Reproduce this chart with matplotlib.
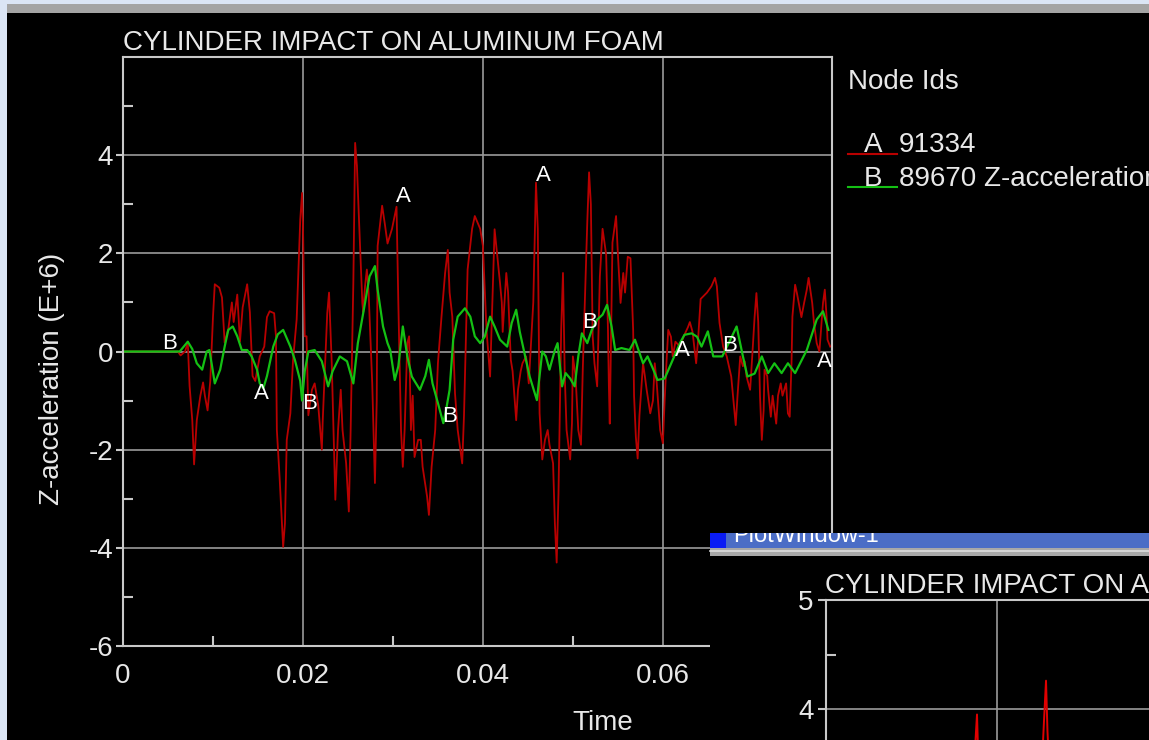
import numpy as np
import matplotlib.pyplot as plt
from matplotlib.patches import Rectangle
from matplotlib.lines import Line2D

plt.rcParams['font.family'] = ['Liberation Sans', 'DejaVu Sans']

W, H = 1149, 740

# node A (91334): time in ms, Z-acceleration in E+6
time_a = [0.0, 6.1, 6.4, 6.9, 7.2, 7.4, 7.7, 7.9, 8.2, 8.6, 8.9, 9.1, 9.4, 9.7, 10.0, 10.2,
          10.7, 11.0, 11.3, 11.7, 12.1, 12.3, 12.7, 13.0, 13.3, 13.8, 14.1, 14.4, 14.7, 15.2,
          15.7, 16.0, 16.3, 16.8, 17.0, 17.1, 17.4, 17.8, 18.0, 18.2, 18.6, 18.9, 19.3, 19.7,
          19.9, 20.0, 20.2, 20.4, 20.6, 21.0, 21.3, 21.7, 22.1, 22.2, 22.7, 22.9, 23.2, 23.6,
          23.9, 24.2, 24.4, 24.8, 25.1, 25.3, 25.6, 25.8, 26.0, 26.2, 26.6, 26.7, 26.9, 27.1,
          27.3, 27.7, 28.0, 28.2, 28.3, 28.8, 29.1, 29.4, 29.9, 30.4, 30.6, 30.9, 31.1, 31.3,
          31.6, 31.8, 32.0, 32.2, 32.4, 32.8, 33.1, 33.3, 33.8, 34.0, 34.3, 34.7, 35.0, 35.4,
          35.8, 36.1, 36.3, 36.6, 36.9, 37.2, 37.7, 37.9, 38.1, 38.3, 38.8, 39.1, 39.7, 40.0,
          40.4, 40.8, 41.1, 41.3, 41.6, 41.9, 42.1, 42.2, 42.6, 42.8, 43.1, 43.3, 43.7, 43.9,
          44.2, 44.4, 44.8, 45.1, 45.6, 45.9, 46.1, 46.3, 46.6, 46.9, 47.2, 47.4, 47.8, 48.0,
          48.2, 48.4, 48.7, 48.9, 49.1, 49.3, 49.7, 49.9, 50.0, 50.3, 50.6, 50.9, 51.1, 51.4,
          51.6, 51.8, 52.0, 52.2, 52.4, 52.7, 53.0, 53.3, 53.7, 53.9, 54.0, 54.1, 54.4, 54.8,
          55.0, 55.3, 55.6, 55.8, 56.1, 56.4, 56.7, 56.8, 57.0, 57.2, 57.4, 57.8, 58.0, 58.2,
          58.6, 58.9, 59.1, 59.3, 59.7, 60.0, 60.2, 60.4, 60.6, 60.9, 61.1, 61.4, 61.9, 62.3,
          62.8, 63.0, 63.3, 63.7, 63.9, 64.2, 64.9, 65.4, 65.8, 66.0, 66.3, 66.7, 67.1, 67.6,
          67.8, 68.1, 68.3, 68.6, 68.9, 69.1, 69.3, 69.7, 69.9, 70.2, 70.4, 70.6, 70.8, 71.0,
          71.2, 71.3, 71.6, 71.7, 72.0, 72.2, 72.6, 72.8, 73.1, 73.3, 73.7, 73.9, 74.1, 74.3,
          74.4, 74.7, 74.9, 75.1, 75.4, 75.7, 76.0, 76.2, 76.6, 76.8, 77.1, 77.4, 77.8, 78.0,
          78.2, 78.3, 78.6]
acc_a = [0.0, 0.0, -0.08, 0.0, 0.18, -0.7, -1.4, -2.3, -1.4, -0.9, -0.63, -0.9, -1.2, -0.6, 0.7, 1.37,
         1.3, 1.1, 0.18, 0.45, 1.0, 0.6, 1.16, 0.2, 0.9, 1.37, 0.8, -0.5, -0.6, -0.1,
         0.1, 0.7, 0.82, 0.78, 0.31, -1.6, -2.55, -3.98, -3.5, -1.8, -1.26, -0.17, 0.65, 2.69,
         3.23, 2.6, 0.31, 0.31, -1.3, -0.78, -0.65, -1.1, -2.0, -1.4, 0.78, 1.2, -0.24, -3.02,
         -1.6, -0.78, -1.6, -2.28, -3.26, -1.6, 1.4, 4.25, 3.78, 2.82, 0.99, 0.8, 1.33, 1.67,
         1.19, -0.65, -2.68, -1.0, 2.15, 2.97, 2.6, 2.2, 2.5, 2.95, 1.0, -1.6, -2.35, -1.6,
         0.17, 0.31, -1.6, -0.9, -2.15, -1.8, -1.8, -2.35, -2.96, -3.33, -2.35, -1.6, -0.24, 0.71,
         1.6, 2.07, 1.2, 0.71, -0.85, -1.6, -2.28, -1.3, 0.17, 1.67, 2.5, 2.76, 2.5, 2.15,
         0.44, -0.51, 1.26, 2.49, 1.95, 1.4, 1.0, 0.4, 1.6, 1.2, -0.17, -0.4, -1.4, -0.78,
         -0.4, -0.24, -0.1, -0.65, 1.0, 3.44, 2.5, -1.26, -2.2, -1.8, -1.6, -1.9, -2.28, -3.5,
         -4.3, -2.9, 0.44, 1.6, -0.5, -1.6, -2.2, -1.46, -0.1, -0.5, -1.6, -1.9, -0.37, 1.46,
         2.63, 3.65, 3.0, 0.31, -0.24, -0.71, 1.53, 2.5, 1.97, 0.44, -0.69, -1.47, 2.22, 2.76,
         2.0, 0.99, 1.6, 1.2, 1.93, 1.9, 0.44, -0.9, -1.74, -2.18, -1.3, -0.24, -0.5, -0.78,
         -1.26, -1.0, -0.24, -0.6, -1.6, -1.87, -1.0, -0.24, 0.44, 0.3, -0.1, 0.2, 0.1, 0.3,
         0.5, 0.6, 0.4, -0.24, 0.2, 1.07, 1.2, 1.33, 1.5, 1.33, 0.58, 0.1, -0.1, -0.51,
         -0.9, -1.5, -0.9, -0.1, -0.3, -0.2, -0.51, -0.78, -0.2, 0.71, 1.19, 0.6, -0.92, -1.8,
         -1.2, -0.37, -0.5, -0.78, -1.33, -0.9, -1.47, -0.9, -0.65, -0.9, -0.65, -1.26, -1.33, -0.24,
         0.71, 1.36, 1.19, 0.99, 0.7, 0.99, 1.26, 1.5, 0.99, 0.58, 0.17, 0.0, 0.99, 1.26,
         0.7, 0.24, 0.1]

# node B (89670)
time_b = [0.0, 6.3, 7.2, 7.7, 8.2, 8.8, 9.3, 9.6, 9.9, 10.2, 10.8, 11.3, 11.7, 12.2, 12.7, 13.2,
          13.8, 14.3, 14.9, 15.2, 15.6, 16.0, 16.7, 17.2, 17.8, 18.6, 19.1, 19.7, 19.9, 20.2,
          20.6, 21.3, 22.1, 22.8, 23.3, 24.1, 24.9, 25.6, 26.1, 26.9, 27.4, 28.0, 28.3, 28.9,
          29.4, 29.7, 30.2, 30.6, 31.1, 31.6, 32.1, 33.0, 33.6, 34.0, 34.4, 35.0, 35.6, 35.9,
          36.3, 36.7, 37.2, 38.0, 38.6, 39.1, 39.7, 40.2, 40.8, 41.3, 41.9, 42.7, 43.2, 43.7,
          44.1, 44.7, 45.2, 46.0, 46.6, 47.0, 47.4, 48.0, 48.3, 48.8, 49.2, 49.7, 50.2, 50.6,
          51.0, 51.6, 52.1, 52.7, 53.3, 53.8, 54.3, 54.7, 55.4, 56.3, 56.9, 57.8, 58.3, 58.9,
          59.4, 60.2, 61.1, 61.9, 62.4, 63.2, 63.8, 64.3, 65.0, 65.6, 66.6, 67.4, 68.2, 68.9,
          69.4, 70.2, 71.0, 71.7, 72.4, 73.2, 73.9, 74.7, 76.0, 77.1, 77.8, 78.4]
acc_b = [0.0, 0.0, 0.2, 0.05, -0.24, -0.37, 0.0, 0.03, -0.3, -0.65, -0.37, 0.1, 0.44, 0.51, 0.31, 0.03,
         0.03, -0.1, -0.37, -0.65, -0.75, -0.5, 0.1, 0.35, 0.44, 0.1, -0.17, -0.6, -1.0, -0.4,
         0.0, 0.03, -0.2, -0.71, -0.4, -0.1, -0.2, -0.65, 0.17, 0.99, 1.53, 1.74, 1.26, 0.51,
         0.17, 0.03, -0.58, -0.3, 0.51, -0.1, -0.51, -0.78, -0.5, -0.17, -0.65, -1.05, -1.46, -1.2,
         -0.78, 0.24, 0.71, 0.88, 0.71, 0.31, 0.17, 0.3, 0.71, 0.51, 0.24, 0.1, 0.58, 0.85,
         0.4, -0.1, -0.51, -0.99, 0.0, -0.1, -0.37, 0.03, 0.17, -0.71, -0.44, -0.55, -0.71, -0.1,
         0.37, 0.17, 0.44, 0.65, 0.75, 0.95, 0.51, 0.03, 0.07, 0.03, 0.24, -0.24, -0.1, -0.35,
         -0.58, -0.55, -0.17, 0.17, 0.34, 0.37, 0.3, 0.1, 0.41, -0.1, -0.1, 0.2, 0.51, -0.1,
         -0.51, -0.45, -0.1, -0.44, -0.24, -0.44, -0.24, -0.44, 0.03, 0.65, 0.82, 0.44]

# curve letters drawn along the lines
mark_a_time = [15.4, 31.2, 46.7, 62.2, 77.9]
mark_a_val = [-0.86, 3.16, 3.59, 0.02, -0.2]
mark_b_time = [5.2, 20.7, 36.3, 51.8, 67.4]
mark_b_val = [0.16, -1.06, -1.33, 0.59, 0.12]

x_ticks = [0, 0.02, 0.04, 0.06]
x_labels = ['0', '0.02', '0.04', '0.06']
y_ticks = [-6, -4, -2, 0, 2, 4]
y_labels = ['-6', '-4', '-2', '0', '2', '4']

# second plot window, mostly hidden
inset_time = [17.0, 17.4, 17.66, 17.9, 25.2, 25.5, 25.73, 25.9, 26.2]
inset_acc = [3.2, 3.6, 3.95, 3.3, 3.4, 3.9, 4.26, 3.8, 3.3]

RED = '#b80000'
GREEN = '#14c014'
TXT = '#e8e8e8'
AXC = '#c8c8c8'


def fx(px):
    return px / W


def fy(py):
    return 1 - py / H


fig = plt.figure(figsize=(W / 100, H / 100), dpi=100, facecolor='#dbe5f5')

# main window frame
fig.add_artist(Rectangle((fx(7), 0), 1 - fx(7), fy(13), transform=fig.transFigure,
                         facecolor='black', edgecolor='none', zorder=-2))
fig.add_artist(Rectangle((fx(7), fy(13)), 1 - fx(7), 9 / H, transform=fig.transFigure,
                         facecolor='#a4a4a4', edgecolor='none', zorder=-1))

ax = fig.add_axes([fx(123), fy(646), (832 - 123) / W, (646 - 57) / H])
ax.set_facecolor('black')
ax.plot(np.array(time_a) / 1000, acc_a, color=RED, lw=1.3)
ax.plot(np.array(time_b) / 1000, acc_b, color=GREEN, lw=1.6)
for t, v in zip(mark_a_time, mark_a_val):
    ax.text(t / 1000, v, 'A', color='white', fontsize=16, ha='center', va='center', zorder=5)
for t, v in zip(mark_b_time, mark_b_val):
    ax.text(t / 1000, v, 'B', color='white', fontsize=16, ha='center', va='center', zorder=5)

ax.set_xlim(0, 0.0788)
ax.set_ylim(-6, 6)
ax.set_xticks(x_ticks)
ax.set_xticklabels(x_labels)
ax.set_yticks(y_ticks)
ax.set_yticklabels(y_labels)
ax.set_xticks([0.01, 0.03, 0.05, 0.07], minor=True)
ax.set_yticks([-5, -3, -1, 1, 3, 5], minor=True)
ax.tick_params(which='both', colors=AXC, labelcolor=TXT, labelsize=20)
ax.tick_params(axis='x', which='major', length=0, pad=12)
ax.tick_params(axis='y', which='major', direction='out', length=5, width=1.5, pad=2)
ax.tick_params(which='minor', direction='in', length=7, width=1.5)
ax.grid(True, which='major', color='#9a9a9a', lw=1.2)
for s in ax.spines.values():
    s.set_color(AXC)
    s.set_linewidth(1.5)

fig.text(fx(123), fy(50), 'CYLINDER IMPACT ON ALUMINUM FOAM', fontsize=20, color=TXT, va='baseline')
fig.text(fx(52), fy(379), 'Z-acceleration (E+6)', fontsize=20, color=TXT, rotation=90,
         ha='center', va='center')
fig.text(fx(603), fy(723), 'Time', fontsize=20, color=TXT, ha='center', va='center')

# legend
fig.text(fx(848), fy(89), 'Node Ids', fontsize=20, color=TXT, va='baseline')
fig.text(fx(864), fy(152), 'A', fontsize=20, color=TXT, va='baseline')
fig.text(fx(899), fy(152), '91334', fontsize=20, color=TXT, va='baseline')
fig.add_artist(Line2D([fx(848), fx(897)], [fy(153.5)] * 2, transform=fig.transFigure, color=RED, lw=1.5))
fig.text(fx(864), fy(186), 'B', fontsize=20, color=TXT, va='baseline')
fig.text(fx(899), fy(186), '89670 Z-acceleration', fontsize=20, color=TXT, va='baseline')
fig.add_artist(Line2D([fx(848), fx(897)], [fy(187)] * 2, transform=fig.transFigure, color=GREEN, lw=1.5))

# second window on top
fig.add_artist(Rectangle((fx(710), 0), 1 - fx(710), fy(556), transform=fig.transFigure,
                         facecolor='black', edgecolor='none', zorder=20))
fig.add_artist(Rectangle((fx(710), fy(556)), 1 - fx(710), 8 / H, transform=fig.transFigure,
                         facecolor='#a8a8a8', edgecolor='none', zorder=20))
fig.add_artist(Line2D([fx(710), 1], [fy(551)] * 2, transform=fig.transFigure, color='#dedede',
                      lw=1.2, zorder=21))

# title bar of the second window, its caption cut at the top edge
bar = fig.add_axes([fx(710), fy(548), 1 - fx(710), 15 / H])
bar.set_zorder(25)
bar.set_facecolor('#4b6dc6')
bar.set_xlim(0, 1149 - 710)
bar.set_ylim(548, 533)
bar.set_xticks([])
bar.set_yticks([])
for s in bar.spines.values():
    s.set_visible(False)
bar.add_patch(Rectangle((0, 533), 16, 15, facecolor='#0a1cf5', edgecolor='none'))
bar.text(23, 542, 'PlotWindow-1', fontsize=17, color='white', va='baseline', clip_on=True)

fig.text(fx(825), fy(593), 'CYLINDER IMPACT ON ALUMINUM FOAM', fontsize=20, color=TXT,
         va='baseline', zorder=31)

ax2 = fig.add_axes([fx(826), 0, 400 / W, fy(600)])
ax2.set_zorder(30)
ax2.set_facecolor('black')
ax2.plot(np.array(inset_time) / 1000, inset_acc, color='#e00000', lw=1.4)
ax2.set_xlim(0, 0.04678)
ax2.set_ylim(3.716, 5)
ax2.set_xticks([0.02])
ax2.set_xticklabels([])
ax2.set_yticks([4, 5])
ax2.set_yticklabels(['4', '5'])
ax2.set_yticks([4.5], minor=True)
ax2.tick_params(which='both', colors=AXC, labelcolor=TXT, labelsize=20)
ax2.tick_params(axis='x', length=0)
ax2.tick_params(axis='y', which='major', direction='out', length=6, width=1.5, pad=3)
ax2.tick_params(axis='y', which='minor', direction='in', length=7, width=1.5)
ax2.grid(True, which='major', color='#9a9a9a', lw=1.2)
ax2.spines['right'].set_visible(False)
ax2.spines['bottom'].set_visible(False)
for s in ('left', 'top'):
    ax2.spines[s].set_color(AXC)
    ax2.spines[s].set_linewidth(1.5)

fig.savefig('out.png', dpi=100, facecolor=fig.get_facecolor())
